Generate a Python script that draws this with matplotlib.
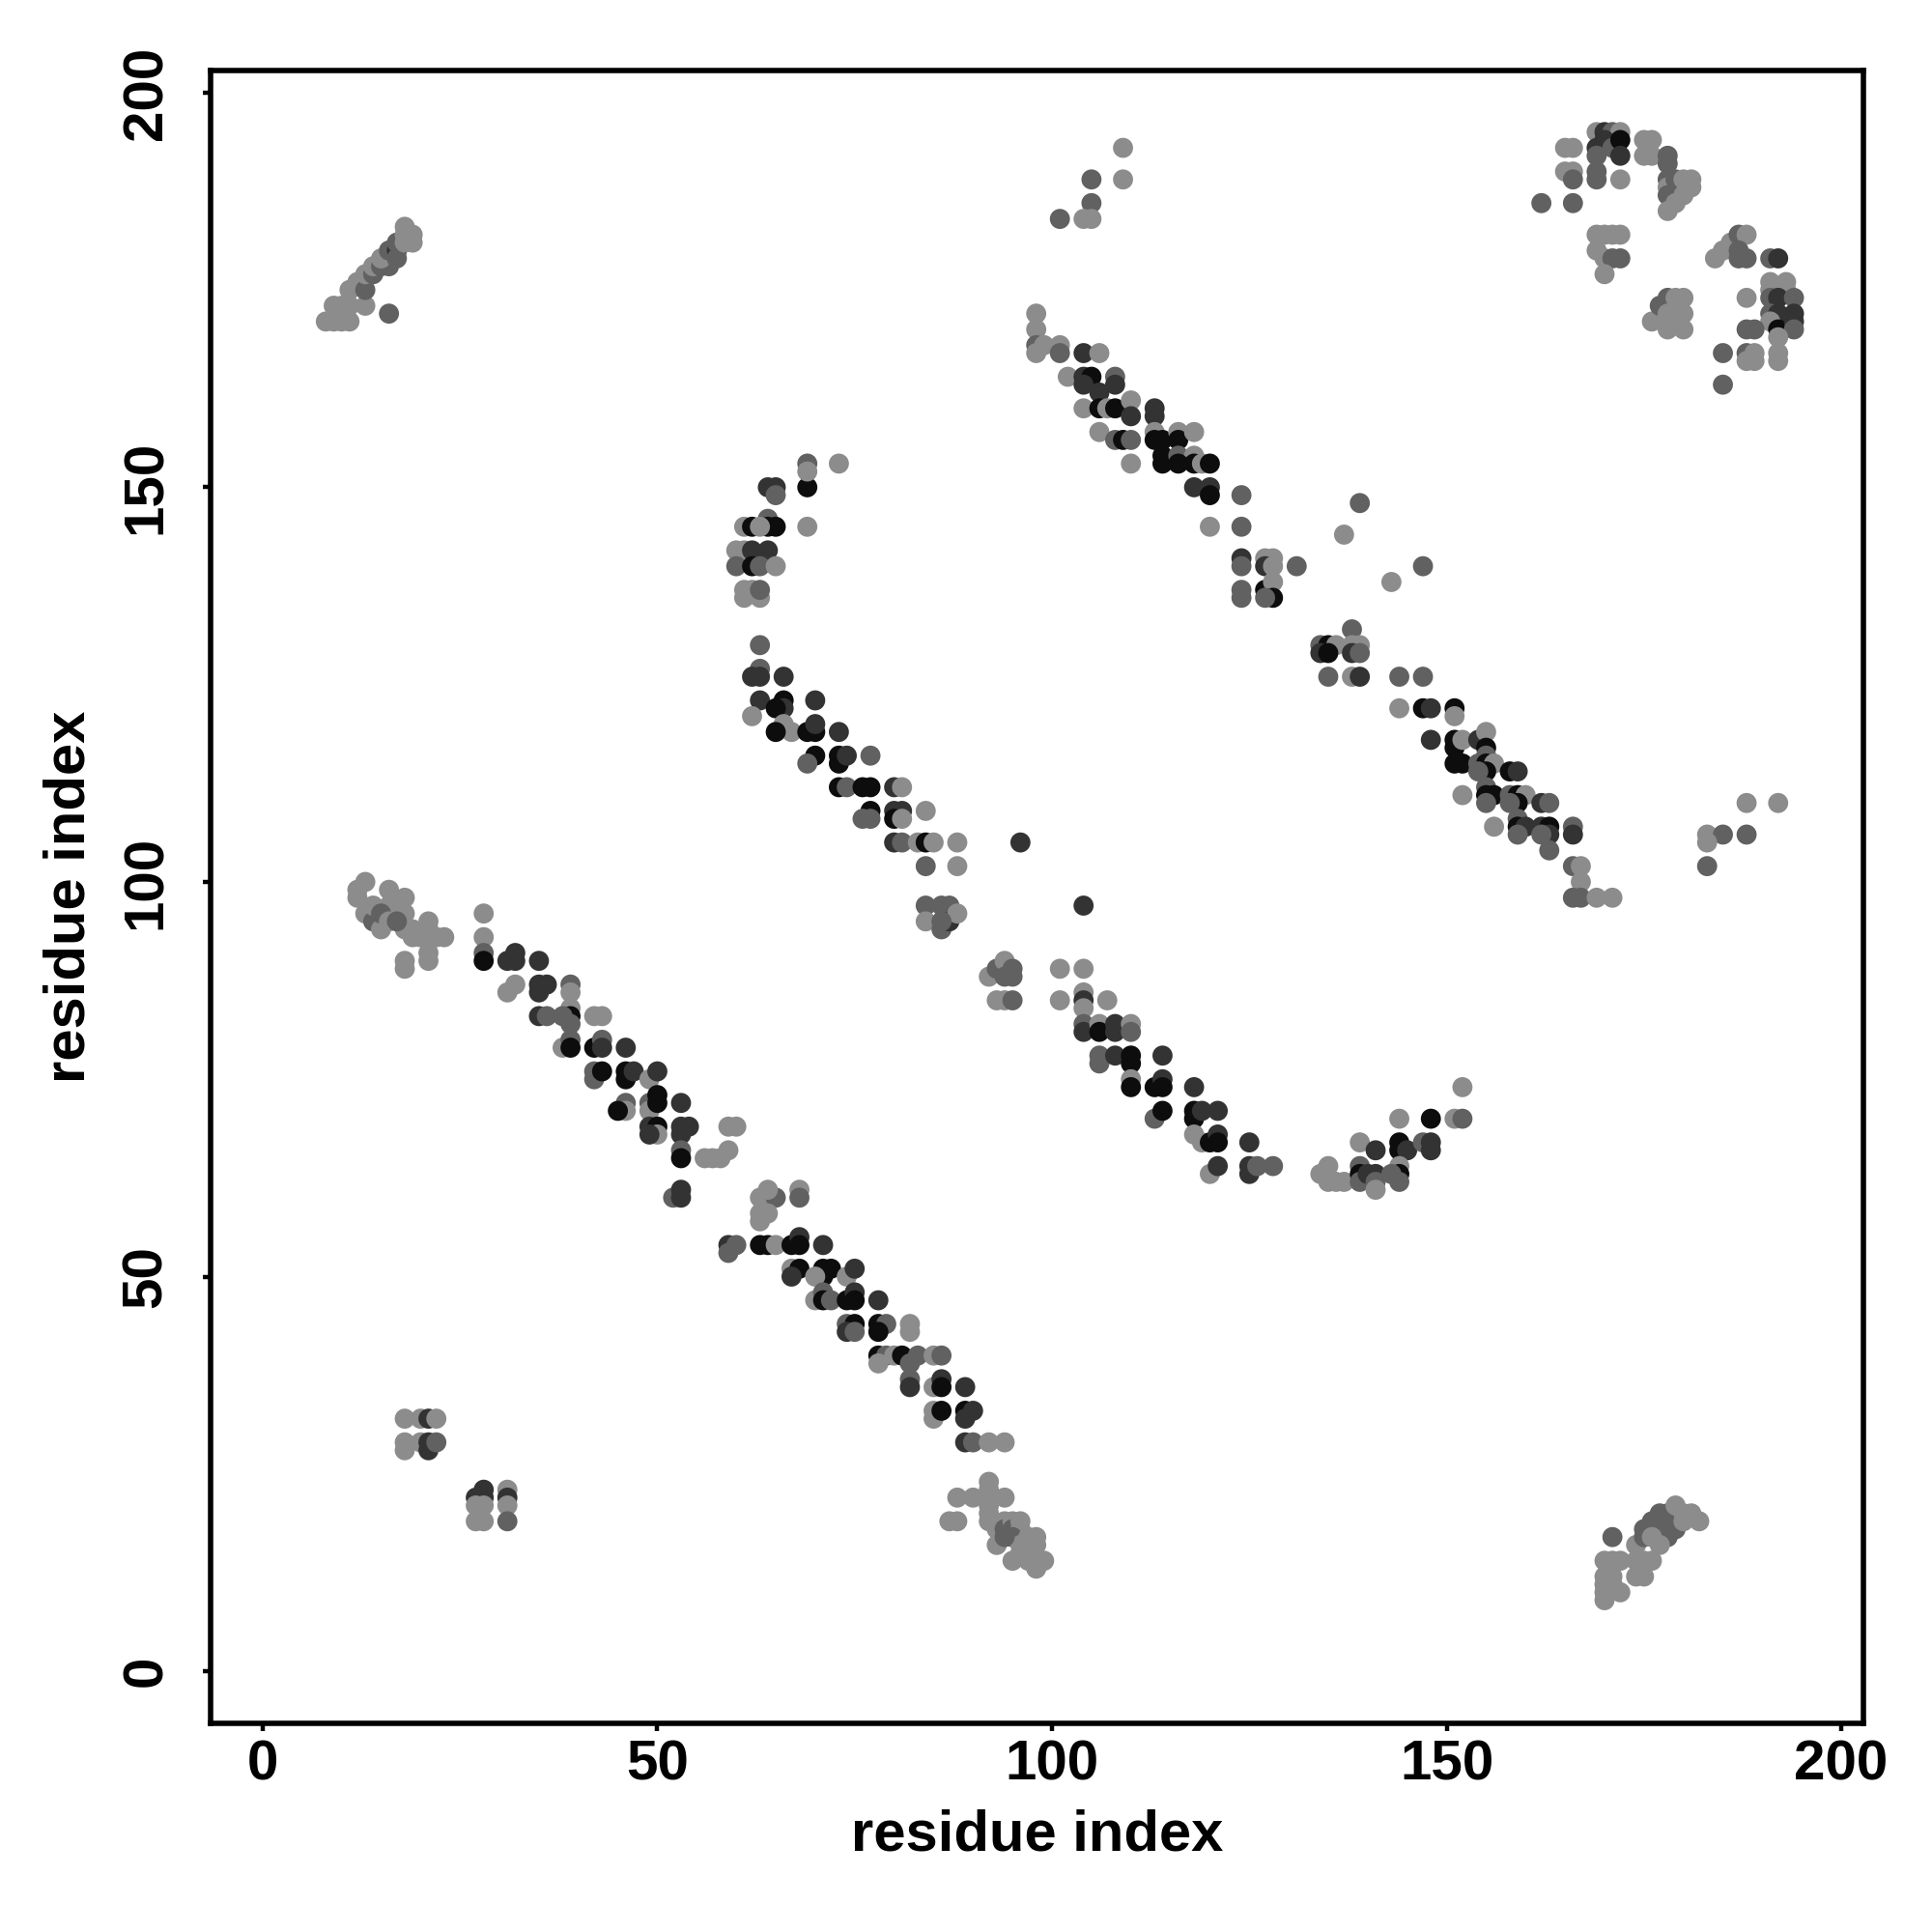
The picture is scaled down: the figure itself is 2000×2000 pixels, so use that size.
import matplotlib

matplotlib.use("Agg")
import matplotlib.pyplot as plt
import numpy as np

# contact map: (residue i, residue j, shade) -- K black, D dark, M mid, L light grey
cluster_top_left = [
    (8, 171, "L"), (9, 171, "L"), (10, 171, "L"), (11, 171, "L"), (9, 173, "L"), (10, 173, "L"),
    (11, 173, "L"), (13, 173, "L"), (11, 175, "L"), (12, 176, "L"), (13, 175, "M"), (13, 177, "L"),
    (14, 177, "M"), (14, 178, "L"), (15, 178, "M"), (16, 178, "M"), (15, 179, "L"), (16, 180, "M"),
    (17, 180, "D"), (17, 179, "M"), (17, 181, "M"), (18, 181, "L"), (19, 181, "L"), (18, 182, "L"),
    (19, 182, "L"), (18, 183, "L"), (16, 172, "M"),
]
cluster_top_mid = [
    (109, 193, "L"), (105, 189, "M"), (109, 189, "L"), (105, 186, "M"), (101, 184, "M"),
    (104, 184, "L"), (105, 184, "L"),
]
band_upper = [
    (98, 172, "L"), (98, 170, "L"), (98, 168, "M"), (98, 167, "L"), (99, 168, "L"), (101, 168, "L"),
    (101, 167, "M"), (104, 167, "D"), (106, 167, "L"), (102, 164, "L"), (104, 164, "D"), (105, 164, "K"),
    (108, 164, "M"), (108, 163, "D"), (104, 163, "D"), (106, 162, "D"), (104, 160, "L"), (106, 160, "K"),
    (107, 160, "L"), (108, 160, "K"), (110, 161, "L"), (110, 159, "D"), (113, 160, "D"), (113, 159, "D"),
    (106, 157, "L"), (108, 156, "M"), (109, 156, "K"), (110, 156, "M"), (113, 157, "L"), (113, 156, "K"),
    (114, 156, "K"), (116, 157, "L"), (116, 156, "K"), (118, 157, "L"), (110, 153, "L"), (114, 154, "K"),
    (114, 153, "K"), (116, 154, "M"), (118, 154, "L"), (116, 153, "K"), (118, 153, "K"), (119, 153, "L"),
    (120, 153, "K"), (118, 150, "D"), (120, 150, "D"), (120, 149, "K"), (124, 149, "M"), (120, 145, "L"),
    (124, 145, "M"), (124, 141, "D"), (124, 140, "M"), (127, 141, "L"), (128, 141, "L"), (127, 140, "D"),
    (128, 140, "L"), (131, 140, "M"), (124, 137, "M"), (127, 137, "K"), (128, 138, "L"), (128, 136, "K"),
    (127, 136, "M"), (124, 136, "M"),
    (137, 144, "L"), (139, 148, "M"), (143, 138, "L"), (147, 140, "M"), (138, 132, "M"),
    (134, 130, "M"), (135, 130, "K"), (136, 130, "L"), (138, 130, "L"), (139, 130, "L"), (134, 129, "D"),
    (135, 129, "K"), (138, 129, "D"), (139, 129, "M"), (135, 126, "M"), (138, 126, "L"), (139, 126, "D"),
    (144, 126, "M"), (147, 126, "M"),
    (144, 122, "L"), (147, 122, "K"), (148, 122, "D"), (151, 122, "K"), (151, 121, "L"), (148, 118, "D"),
    (151, 118, "K"), (151, 117, "K"), (152, 118, "L"), (154, 118, "D"), (155, 119, "L"), (155, 117, "K"),
    (155, 116, "M"), (151, 115, "K"), (152, 115, "K"), (154, 115, "M"), (155, 115, "K"), (156, 115, "L"),
    (158, 114, "K"), (159, 114, "D"), (155, 114, "K"), (154, 114, "M"), (152, 111, "L"), (155, 112, "M"),
    (155, 111, "K"), (156, 111, "K"), (155, 110, "M"), (158, 111, "M"), (159, 111, "K"), (160, 111, "L"),
    (159, 110, "K"), (158, 110, "M"), (162, 110, "D"), (163, 110, "M"), (156, 107, "L"), (159, 108, "M"),
    (159, 107, "K"), (160, 107, "D"), (159, 106, "M"), (162, 107, "D"), (163, 107, "K"), (163, 106, "D"),
    (162, 106, "M"), (166, 107, "M"), (166, 106, "D"), (163, 104, "M"), (166, 102, "M"), (167, 102, "L"),
    (167, 100, "L"), (166, 98, "M"), (167, 98, "M"), (169, 98, "L"), (171, 98, "L"),
]
cluster_right_mid = [
    (188, 110, "L"), (192, 110, "L"), (183, 106, "L"), (185, 106, "M"), (188, 106, "M"),
    (183, 105, "L"), (183, 102, "M"),
]
cluster_top_right = [
    (165, 193, "L"), (166, 193, "L"), (169, 195, "L"), (170, 195, "D"), (171, 195, "M"), (172, 195, "L"),
    (169, 193, "D"), (170, 194, "D"), (171, 193, "M"), (172, 194, "K"), (172, 192, "D"), (175, 194, "L"),
    (176, 194, "L"), (175, 192, "L"), (176, 192, "L"), (169, 192, "M"), (165, 190, "L"), (166, 190, "L"),
    (166, 189, "M"), (169, 190, "M"), (169, 189, "M"), (172, 189, "L"), (162, 186, "M"), (166, 186, "M"),
    (178, 192, "M"), (178, 191, "M"), (178, 189, "M"), (178, 188, "L"), (178, 187, "M"), (178, 185, "L"),
    (179, 189, "M"), (180, 189, "L"), (181, 189, "L"), (181, 188, "L"), (180, 187, "L"), (179, 186, "L"),
    (169, 182, "L"), (170, 182, "L"), (171, 182, "L"), (172, 182, "L"), (169, 180, "L"), (170, 179, "L"),
    (171, 179, "M"), (172, 179, "M"), (170, 177, "L"), (176, 171, "L"), (177, 173, "M"), (178, 174, "M"),
    (179, 174, "L"), (180, 174, "L"), (178, 172, "L"), (179, 172, "L"), (180, 172, "L"), (178, 170, "L"),
    (180, 170, "L"), (184, 179, "L"), (185, 180, "L"), (186, 181, "L"), (187, 182, "M"), (188, 182, "L"),
    (187, 180, "M"), (188, 179, "M"), (187, 179, "M"), (191, 179, "M"), (192, 179, "D"), (191, 176, "L"),
    (193, 176, "L"), (191, 175, "L"), (193, 175, "L"), (188, 174, "L"), (191, 174, "M"), (192, 174, "D"),
    (194, 174, "M"), (191, 172, "M"), (192, 172, "D"), (194, 172, "D"), (191, 171, "L"), (192, 170, "K"),
    (194, 171, "D"), (194, 170, "M"), (188, 170, "M"), (189, 170, "M"), (192, 169, "L"), (185, 167, "M"),
    (188, 167, "M"), (189, 167, "L"), (188, 166, "L"), (189, 166, "L"), (192, 167, "L"), (192, 166, "L"),
    (185, 163, "M"),
]
cluster_mid_left = [
    (64, 150, "D"), (65, 150, "D"), (65, 149, "M"), (69, 150, "K"), (69, 153, "M"), (69, 152, "L"),
    (73, 153, "L"), (64, 146, "M"), (64, 145, "K"), (65, 145, "K"), (69, 145, "L"), (61, 145, "L"),
    (62, 145, "K"), (63, 145, "L"), (64, 142, "D"), (60, 142, "L"), (61, 142, "L"), (62, 142, "D"),
    (60, 140, "M"), (62, 140, "K"), (63, 140, "M"), (65, 140, "L"), (61, 137, "L"), (62, 137, "L"),
    (61, 136, "L"), (63, 136, "L"), (63, 137, "M"),
]
band_middle = [
    (63, 130, "M"), (63, 127, "M"), (62, 126, "D"), (63, 126, "D"), (66, 126, "D"), (63, 123, "D"),
    (62, 121, "L"), (66, 123, "K"), (66, 122, "D"), (65, 122, "K"), (70, 123, "D"), (66, 120, "L"),
    (67, 119, "L"), (65, 119, "K"), (69, 119, "K"), (70, 119, "K"), (70, 120, "D"), (73, 119, "D"),
    (70, 116, "K"), (69, 115, "M"), (73, 116, "K"), (73, 115, "K"), (74, 116, "D"), (77, 116, "M"),
    (73, 112, "K"), (74, 112, "M"), (76, 112, "K"), (77, 112, "K"), (80, 112, "D"), (81, 112, "L"),
    (77, 109, "K"), (76, 108, "M"), (77, 108, "M"), (80, 109, "D"), (81, 109, "D"), (80, 108, "K"),
    (81, 108, "L"), (84, 109, "L"), (80, 105, "D"), (81, 105, "M"), (83, 105, "L"), (84, 105, "K"),
    (85, 105, "L"), (88, 105, "L"), (96, 105, "D"), (84, 102, "M"), (88, 102, "L"), (84, 97, "M"),
    (84, 95, "L"), (86, 97, "M"), (87, 97, "M"), (86, 94, "M"), (87, 95, "D"), (88, 96, "L"),
    (86, 95, "M"), (104, 97, "D"),
]
band_lower_mid = [
    (92, 88, "L"), (93, 89, "M"), (94, 90, "L"), (95, 89, "M"), (95, 88, "M"), (94, 88, "M"),
    (93, 85, "L"), (94, 85, "L"), (95, 85, "M"), (101, 89, "L"), (104, 89, "L"), (101, 85, "L"),
    (104, 86, "L"), (104, 85, "D"), (104, 84, "L"), (107, 85, "L"), (104, 82, "M"), (104, 81, "D"),
    (106, 82, "L"), (106, 81, "K"), (108, 82, "D"), (108, 81, "D"), (110, 82, "L"), (110, 81, "M"),
    (106, 78, "M"), (106, 77, "M"), (108, 78, "D"), (110, 78, "K"), (110, 77, "K"), (114, 78, "D"),
    (110, 75, "L"), (110, 74, "K"), (113, 74, "K"), (114, 75, "D"), (114, 74, "K"), (118, 74, "D"),
    (113, 70, "M"), (114, 71, "K"), (118, 71, "K"), (118, 70, "K"), (119, 71, "D"), (121, 71, "D"),
    (118, 68, "L"), (119, 67, "L"), (120, 67, "K"), (121, 68, "D"), (121, 67, "K"), (125, 67, "D"),
    (120, 63, "L"), (121, 64, "D"), (125, 64, "D"), (125, 63, "D"), (126, 64, "M"), (128, 64, "M"),
]
cluster_lower_right = [
    (152, 74, "L"), (144, 70, "L"), (148, 70, "K"), (151, 70, "L"), (152, 70, "M"), (139, 67, "L"),
    (141, 66, "D"), (144, 67, "K"), (144, 66, "K"), (145, 66, "D"), (147, 67, "M"), (148, 67, "D"),
    (148, 66, "D"), (135, 64, "L"), (134, 63, "L"), (135, 62, "L"), (136, 62, "L"), (137, 62, "L"),
    (139, 64, "M"), (139, 63, "K"), (139, 62, "M"), (140, 63, "D"), (141, 63, "D"), (141, 62, "M"),
    (141, 61, "L"), (144, 64, "L"), (144, 63, "K"), (144, 62, "M"), (143, 63, "M"),
]
cluster_left_mid = [
    (13, 100, "L"), (12, 99, "L"), (16, 99, "L"), (18, 98, "L"), (12, 98, "L"), (13, 96, "L"),
    (14, 95, "M"), (15, 94, "L"), (16, 97, "L"), (17, 97, "L"), (18, 96, "L"), (18, 94, "L"),
    (19, 94, "L"), (21, 95, "L"), (21, 94, "L"), (23, 93, "L"), (19, 93, "L"), (20, 93, "L"),
    (21, 93, "L"), (22, 93, "L"), (21, 91, "L"), (21, 90, "L"), (18, 90, "L"), (18, 89, "L"),
    (14, 97, "L"), (15, 96, "M"), (16, 95, "L"), (17, 95, "M"),
]
band_lower = [
    (28, 96, "L"), (28, 93, "L"), (28, 91, "M"), (28, 90, "K"), (31, 90, "D"), (32, 91, "D"),
    (32, 90, "D"), (35, 90, "D"), (32, 87, "L"), (31, 86, "L"), (35, 87, "D"), (36, 87, "D"),
    (35, 86, "D"), (39, 87, "M"), (39, 86, "L"), (35, 83, "D"), (36, 83, "M"), (39, 84, "L"),
    (39, 83, "K"), (39, 82, "M"), (38, 83, "M"), (42, 83, "L"), (43, 83, "L"), (38, 79, "L"),
    (39, 80, "M"), (39, 79, "K"), (42, 79, "K"), (43, 80, "M"), (43, 79, "D"), (46, 79, "D"),
    (42, 76, "M"), (42, 75, "M"), (43, 76, "K"), (46, 76, "K"), (46, 75, "K"), (47, 76, "D"),
    (49, 75, "L"), (50, 76, "D"), (46, 72, "M"), (46, 71, "L"), (45, 71, "K"), (49, 72, "M"),
    (49, 71, "L"), (50, 73, "K"), (50, 72, "K"), (53, 72, "D"), (49, 69, "D"), (50, 69, "K"),
    (50, 68, "L"), (49, 68, "D"), (53, 69, "D"), (53, 68, "D"), (54, 69, "D"), (53, 66, "M"),
    (53, 65, "K"), (56, 65, "L"), (57, 65, "L"), (58, 65, "L"), (59, 66, "L"), (60, 69, "L"),
    (59, 69, "L"), (52, 60, "M"), (53, 61, "D"), (53, 60, "D"), (63, 60, "L"), (63, 58, "L"),
    (63, 57, "L"), (65, 60, "M"), (68, 61, "L"), (68, 60, "M"), (64, 61, "L"), (64, 58, "L"),
    (59, 54, "D"), (60, 54, "M"), (59, 53, "M"), (64, 54, "K"), (63, 54, "K"), (65, 54, "L"),
    (67, 54, "K"), (68, 55, "D"), (68, 54, "K"), (71, 54, "D"), (67, 51, "L"), (68, 51, "K"),
    (67, 50, "D"), (71, 51, "K"), (72, 51, "K"), (71, 50, "K"), (70, 50, "L"), (74, 50, "L"),
    (75, 51, "D"), (70, 47, "L"), (71, 48, "M"), (71, 47, "K"), (72, 47, "M"), (74, 47, "K"),
    (75, 48, "D"), (75, 47, "K"), (78, 47, "D"), (74, 44, "M"), (75, 44, "K"), (74, 43, "D"),
    (75, 43, "M"), (78, 44, "K"), (79, 44, "M"), (78, 43, "K"), (82, 44, "L"), (82, 43, "L"),
    (78, 40, "K"), (79, 40, "M"), (78, 39, "L"), (80, 40, "L"), (81, 40, "K"), (83, 40, "M"),
    (82, 39, "M"), (85, 40, "L"), (86, 40, "M"), (82, 37, "M"), (82, 36, "D"), (85, 36, "L"),
    (86, 37, "D"), (86, 36, "K"), (89, 36, "D"), (85, 33, "L"), (85, 32, "L"), (86, 33, "K"),
    (89, 33, "K"), (90, 33, "D"), (89, 32, "D"), (89, 29, "D"), (90, 29, "M"), (92, 29, "L"),
    (94, 29, "L"),
]
cluster_bottom_mid = [
    (92, 24, "L"), (92, 23, "L"), (88, 22, "L"), (90, 22, "L"), (94, 22, "L"), (87, 19, "L"),
    (88, 19, "L"), (92, 21, "L"), (92, 20, "L"), (92, 19, "L"), (93, 18, "L"), (93, 16, "L"),
    (94, 19, "L"), (94, 18, "M"), (95, 19, "L"), (95, 18, "M"), (96, 19, "L"), (96, 18, "L"),
    (95, 17, "M"), (96, 16, "L"), (97, 17, "L"), (98, 17, "L"), (98, 16, "L"), (95, 14, "L"),
    (97, 14, "L"), (98, 13, "L"), (99, 14, "L"), (94, 17, "M"), (96, 15, "L"),
]
cluster_bottom_left = [
    (18, 32, "L"), (20, 32, "L"), (21, 32, "D"), (22, 32, "L"), (18, 29, "L"), (18, 28, "L"),
    (20, 29, "L"), (21, 29, "D"), (21, 28, "D"), (22, 29, "M"), (27, 22, "D"), (28, 23, "D"),
    (28, 22, "D"), (27, 21, "L"), (28, 21, "L"), (27, 19, "L"), (28, 19, "L"), (31, 23, "L"),
    (31, 22, "D"), (31, 21, "L"), (31, 19, "M"),
]
cluster_bottom_right = [
    (171, 17, "M"), (170, 14, "L"), (171, 14, "L"), (172, 14, "L"), (170, 12, "L"), (170, 11, "L"),
    (170, 10, "L"), (170, 9, "L"), (171, 11, "L"), (172, 10, "L"), (171, 12, "L"), (174, 16, "L"),
    (175, 17, "M"), (175, 18, "M"), (176, 19, "M"), (174, 14, "L"), (175, 14, "L"), (176, 14, "L"),
    (174, 12, "L"), (175, 12, "L"), (177, 20, "M"), (178, 20, "M"), (179, 21, "L"), (180, 20, "L"),
    (181, 20, "L"), (182, 19, "L"), (177, 18, "M"), (178, 17, "M"), (179, 18, "M"), (180, 19, "L"),
    (176, 17, "L"), (177, 16, "L"),
]

ticks = [0, 50, 100, 150, 200]
shade_grey = {"K": 0.05, "D": 0.2, "M": 0.38, "L": 0.55}

contacts = (cluster_top_left + cluster_top_mid + band_upper + cluster_right_mid + cluster_top_right
            + cluster_mid_left + band_middle + band_lower_mid + cluster_lower_right + cluster_left_mid
            + band_lower + cluster_bottom_mid + cluster_bottom_left + cluster_bottom_right)
xs = np.array([c[0] for c in contacts])
ys = np.array([c[1] for c in contacts])
cols = [(shade_grey[c[2]],) * 3 for c in contacts]

plt.rcParams["font.family"] = ["Liberation Sans", "DejaVu Sans"]
plt.rcParams["font.weight"] = "bold"

fig = plt.figure(figsize=(10, 10), dpi=200)
ax = fig.add_axes([0.109, 0.108, 0.8555, 0.8555])
ax.scatter(xs, ys, s=56, c=cols, edgecolors="none", zorder=2)

ax.set_xlim(-6.6, 202.8)
ax.set_ylim(-6.6, 202.8)
ax.set_xticks(ticks)
ax.set_yticks(ticks)
for sp in ax.spines.values():
    sp.set_linewidth(2.0)
ax.tick_params(axis="both", direction="out", length=3, width=1.6, labelsize=21)
ax.tick_params(axis="x", pad=3)
ax.tick_params(axis="y", pad=11)
for lab in ax.get_yticklabels():
    lab.set_rotation(90)
    lab.set_va("center")
    lab.set_ha("right")
for lab in ax.get_xticklabels() + ax.get_yticklabels():
    lab.set_fontweight("bold")

ax.set_xlabel("residue index", fontsize=21.5, fontweight="bold")
ax.set_ylabel("residue index", fontsize=21.5, fontweight="bold")
ax.xaxis.set_label_coords(0.5, -0.052)
ax.yaxis.set_label_coords(-0.069, 0.5)

fig.savefig("out.png", dpi=200, facecolor="white")
